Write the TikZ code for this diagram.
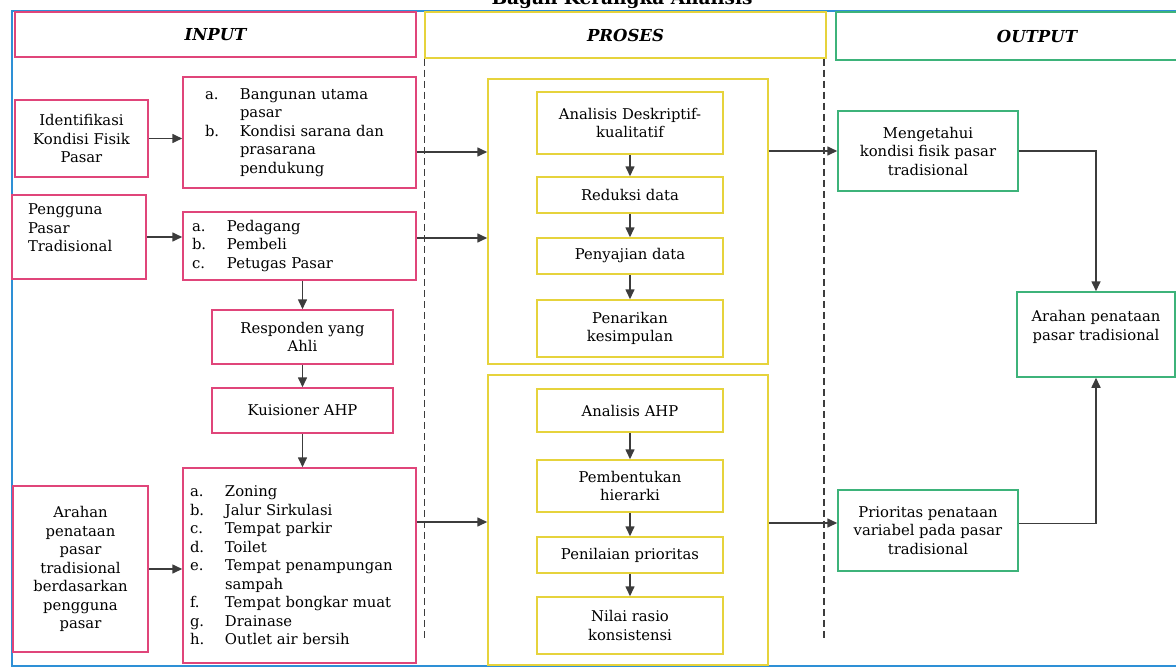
\documentclass[tikz,border=0pt]{standalone}
\usepackage{fontspec}
\setmainfont{DejaVu Serif}
\usetikzlibrary{arrows.meta}

\definecolor{inred}{HTML}{E0457A}
\definecolor{proyel}{HTML}{E6D33C}
\definecolor{outgrn}{HTML}{3DB37A}
\definecolor{frblue}{HTML}{2E90D6}
\definecolor{ink}{HTML}{3C3C3C}

\newlength{\lblw}
\setlength{\lblw}{35pt}
\newcommand{\itm}[2]{\makebox[\lblw][l]{#1}#2}
\newcommand{\cnt}[1]{\hspace*{\lblw}#1}

\tikzset{x=1pt, y=-1pt,
    every node/.append style={font=\fontsize{14.8}{18.5}\selectfont},
    box/.style={draw, line width=1.5pt, inner sep=0pt, align=center},
    inbox/.style={box, draw=inred},
    probox/.style={box, draw=proyel},
    outbox/.style={box, draw=outgrn},
    head/.style={font=\fontsize{16.5}{18}\selectfont\bfseries\itshape},
    arr/.style={draw=ink, line width=1.6pt, -{Triangle[length=10pt,width=9pt]}},
    sep/.style={draw=ink, line width=1.5pt, dash pattern=on 7pt off 4pt}}

\begin{document}
\begin{tikzpicture}
    \useasboundingbox (0,0) rectangle (1176,669);
    \draw[frblue, line width=1.8pt] (12,11) rectangle (1220,666);
    \node[font=\fontsize{18.5}{20}\selectfont\bfseries, anchor=base] (ttl) at (622,5) {Bagan Kerangka Analisis};

    % headers
    \node[inbox, head, minimum width=401pt, minimum height=45pt] (hin) at (215.5,34.5) {INPUT};
    \node[probox, head, minimum width=401pt, minimum height=46pt] (hpro) at (625.5,35) {PROSES};
    \node[outbox, head, minimum width=402pt, minimum height=48pt] (hout) at (1037,36) {OUTPUT};
    \draw[sep] (hpro.south west) -- ++(0,582);
    \draw[sep] ([xshift=-3pt]hpro.south east) -- ++(0,582);

    % input
    \node[inbox, minimum width=133pt, minimum height=77pt] (idn) at (81.5,138.5) {Identifikasi\\Kondisi Fisik\\Pasar};
    \node[inbox, align=left, inner xsep=22pt, text width=189pt, minimum height=111pt] (lst1) at (299.5,132.5)
        {\itm{a.}{Bangunan utama}\\ \cnt{pasar}\\ \itm{b.}{Kondisi sarana dan}\\ \cnt{prasarana}\\ \cnt{pendukung}};
    \node[inbox, align=left, inner xsep=16pt, text width=102pt, minimum height=84pt] (pgn) at (79,237)
        {Pengguna\\Pasar\\Tradisional\\ \mbox{}};
    \node[inbox, align=left, inner xsep=9pt, text width=215pt, minimum height=68pt] (lst2) at (299.5,246)
        {\itm{a.}{Pedagang}\\ \itm{b.}{Pembeli}\\ \itm{c.}{Petugas Pasar}};
    \node[inbox, minimum width=181pt, minimum height=54pt] (rsp) at (302.5,337) {Responden yang\\Ahli};
    \node[inbox, minimum width=181pt, minimum height=45pt] (ksn) at (302.5,410.5) {Kuisioner AHP};
    \node[inbox, minimum width=135pt, minimum height=166pt] (arh) at (80.5,569)
        {Arahan\\penataan\\pasar\\tradisional\\berdasarkan\\pengguna\\pasar};
    \node[inbox, align=left, inner xsep=7pt, text width=219pt, minimum height=195pt] (lst3) at (299.5,565.5)
        {\itm{a.}{Zoning}\\ \itm{b.}{Jalur Sirkulasi}\\ \itm{c.}{Tempat parkir}\\ \itm{d.}{Toilet}\\
         \itm{e.}{Tempat penampungan}\\ \cnt{sampah}\\ \itm{f.}{Tempat bongkar muat}\\ \itm{g.}{Drainase}\\
         \itm{h.}{Outlet air bersih}};

    % proses
    \node[probox, minimum width=280pt, minimum height=285pt] (pb1) at (628,221.5) {};
    \node[probox, minimum width=186pt, minimum height=62pt] (ad) at (630,123) {Analisis Deskriptif-\\kualitatif};
    \node[probox, minimum width=186pt, minimum height=36pt] (rd) at (630,195) {Reduksi data};
    \node[probox, minimum width=186pt, minimum height=36pt] (pj) at (630,256) {Penyajian data};
    \node[probox, minimum width=186pt, minimum height=57pt] (pk) at (630,328.5) {Penarikan\\kesimpulan};
    \node[probox, minimum width=280pt, minimum height=290pt] (pb2) at (628,520) {};
    \node[probox, minimum width=186pt, minimum height=43pt] (ahp) at (630,410.5) {Analisis AHP};
    \node[probox, minimum width=186pt, minimum height=52pt] (phr) at (630,486) {Pembentukan\\hierarki};
    \node[probox, minimum width=186pt, minimum height=36pt] (pnl) at (630,555) {Penilaian prioritas};
    \node[probox, minimum width=186pt, minimum height=57pt] (nrk) at (630,625.5) {Nilai rasio\\konsistensi};

    % output
    \node[outbox, minimum width=180pt, minimum height=80pt] (mgt) at (928,151) {Mengetahui\\kondisi fisik pasar\\tradisional};
    \node[outbox, minimum width=158pt, minimum height=85pt] (arp) at (1096,334.5) {Arahan penataan\\pasar tradisional\\ \mbox{}};
    \node[outbox, minimum width=180pt, minimum height=81pt] (prt) at (928,530.5) {Prioritas penataan\\variabel pada pasar\\tradisional};

    % arrows
    \draw[arr] (idn.east) -- (idn.east -| lst1.west);
    \draw[arr] (pgn.east) -- (pgn.east -| lst2.west);
    \draw[arr] (arh.east) -- (arh.east -| lst3.west);
    \draw[arr] (rsp.north |- lst2.south) -- (rsp.north);
    \draw[arr] (rsp) -- (ksn);
    \draw[arr] (ksn.south) -- (ksn.south |- lst3.north);
    \coordinate (o1) at ([yshift=-19.5pt]lst1.east);
    \coordinate (o2) at ([yshift=8pt]lst2.east);
    \coordinate (o3) at ([yshift=43.5pt]lst3.east);
    \draw[arr] (o1) -- (o1 -| pb1.west);
    \draw[arr] (o2) -- (o2 -| pb1.west);
    \draw[arr] (o3) -- (o3 -| pb2.west);
    \foreach \a/\b in {ad/rd, rd/pj, pj/pk, ahp/phr, phr/pnl, pnl/nrk}
        \draw[arr] (\a) -- (\b);
    \coordinate (o4) at ([yshift=7.5pt]prt.west);
    \draw[arr] (mgt.west -| pb1.east) -- (mgt.west);
    \draw[arr] (o4 -| pb2.east) -- (o4);
    \draw[arr] (mgt.east) -| (arp.north);
    \draw[arr] ([yshift=7pt]prt.east) -| (arp.south);
\end{tikzpicture}
\end{document}
